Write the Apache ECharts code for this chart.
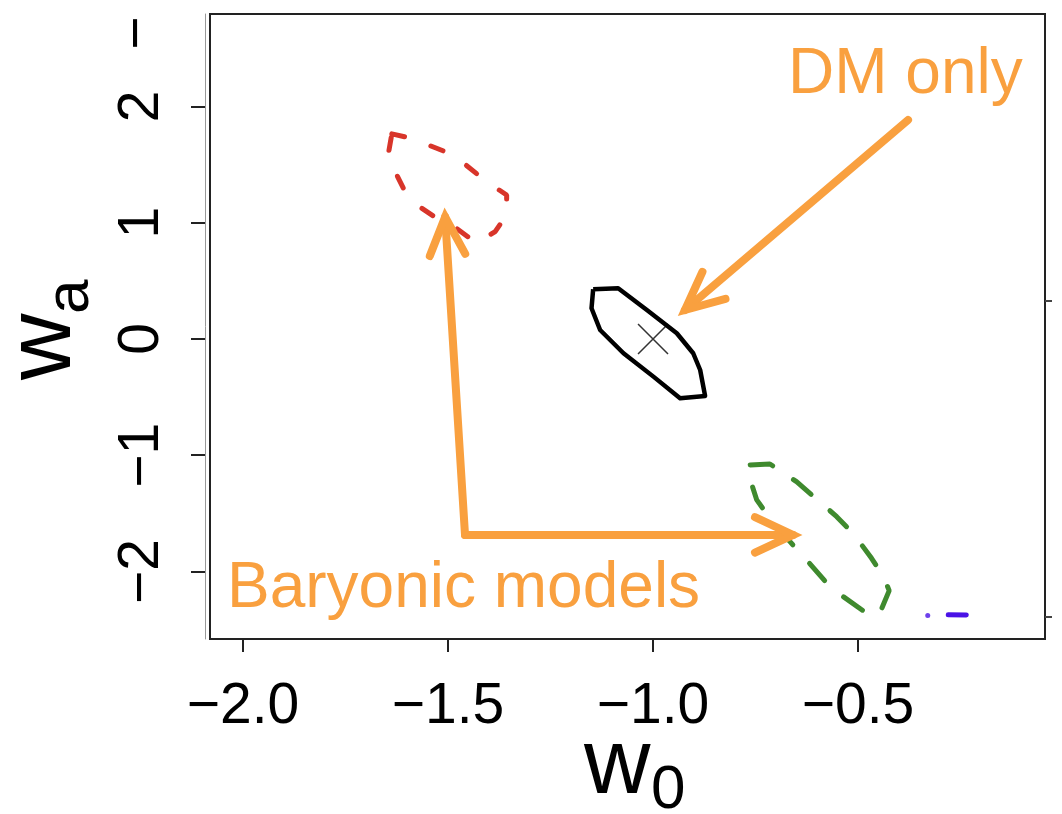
<!DOCTYPE html>
<html>
<head>
<meta charset="utf-8">
<script src="https://cdn.jsdelivr.net/npm/echarts@6/dist/echarts.min.js"></script>
<style>html,body{margin:0;padding:0;background:#fff;}#c{width:1062px;height:814px;}</style>
</head>
<body>
<div id="c"></div>
<script>
// ---- data ----
const xTicks = [-2.0, -1.5, -1.0, -0.5];
const xTickLabels = ['\u22122.0', '\u22121.5', '\u22121.0', '\u22120.5'];
const yTicks = [-2, -1, 0, 1, 2];
const yTickLabels = ['\u22122', '\u22121', '0', '1', '2'];
const rightTicks = [0.33, -2.39];

// DM only contour (solid black)
const dmContour = [
  [-1.146, 0.427], [-1.085, 0.436], [-1.015, 0.249], [-0.942, 0.049],
  [-0.902, -0.123], [-0.885, -0.267], [-0.873, -0.490], [-0.934, -0.510],
  [-0.999, -0.324], [-1.072, -0.123], [-1.129, 0.077], [-1.150, 0.264],
  [-1.146, 0.427]
];
const dmCenter = [[-1.0, 0.0]];

// Baryonic model contour (red dashed)
const redContour = [
  [-1.637, 1.763], [-1.589, 1.726], [-1.487, 1.582], [-1.406, 1.353],
  [-1.357, 1.238], [-1.357, 1.066], [-1.385, 0.923], [-1.430, 0.823],
  [-1.483, 0.960], [-1.528, 1.038], [-1.570, 1.138], [-1.605, 1.267],
  [-1.629, 1.439], [-1.646, 1.582], [-1.637, 1.763]
];

// Baryonic model contour (green dashed)
const greenContour = [
  [-0.763, -1.083], [-0.715, -1.075], [-0.650, -1.227], [-0.552, -1.528],
  [-0.512, -1.671], [-0.467, -1.886], [-0.438, -2.044], [-0.424, -2.164],
  [-0.442, -2.316], [-0.467, -2.388], [-0.536, -2.216], [-0.576, -2.101],
  [-0.629, -1.886], [-0.666, -1.743], [-0.715, -1.542], [-0.747, -1.384],
  [-0.768, -1.155], [-0.763, -1.083]
];

// Baryonic model contour (tiny, blue)
const blueDash = [[-0.280, -2.372], [-0.236, -2.374]];
const blueDot = [[-0.330, -2.379]];

// Annotation arrows: [xStart, yStart, xTip, yTip]
const arrowSegments = [
  [-0.378, 1.883, -0.922, 0.249],
  [-1.4585, -1.685, -1.507, 1.049],
  [-1.4585, -1.685, -0.6585, -1.685]
];

// ---- chart ----
const FONT = '"Liberation Sans", Arial, Helvetica, sans-serif';
const ORANGE = '#f9a03f';
const chart = echarts.init(document.getElementById('c'), null, {renderer: 'canvas'});

function arrowItem(params, api) {
  const p1 = api.coord([api.value(0), api.value(1)]);
  const p2 = api.coord([api.value(2), api.value(3)]);
  const ang = Math.atan2(p1[1] - p2[1], p1[0] - p2[0]);
  const L = 42, a = 25 * Math.PI / 180;
  const a1 = [p2[0] + L * Math.cos(ang + a), p2[1] + L * Math.sin(ang + a)];
  const a2 = [p2[0] + L * Math.cos(ang - a), p2[1] + L * Math.sin(ang - a)];
  const st = {stroke: ORANGE, lineWidth: 8, lineCap: 'round', lineJoin: 'miter', fill: null};
  return {
    type: 'group',
    children: [
      {type: 'line', shape: {x1: p1[0], y1: p1[1], x2: p2[0], y2: p2[1]}, style: st},
      {type: 'polyline', shape: {points: [a1, p2, a2]}, style: st}
    ]
  };
}

const option = {
  backgroundColor: '#fff',
  animation: false,
  grid: {left: 210, right: 17, top: 14, bottom: 175, show: true, borderColor: '#222', borderWidth: 2, backgroundColor: 'transparent'},
  xAxis: {
    type: 'value', min: -2.0805, max: -0.044,
    axisLine: {show: true, onZero: false, lineStyle: {color: '#222', width: 2}},
    axisTick: {show: true, length: 13, customValues: xTicks, lineStyle: {color: '#222', width: 2}},
    axisLabel: {
      customValues: xTicks, margin: 40, fontSize: 57, fontFamily: FONT, color: '#000',
      formatter: v => xTickLabels[xTicks.findIndex(t => Math.abs(t - v) < 1e-9)]
    },
    splitLine: {show: false}
  },
  yAxis: [{
    type: 'value', min: -2.58, max: 2.794, offset: 5,
    axisLine: {show: true, onZero: false, lineStyle: {color: '#999', width: 1}},
    axisTick: {show: true, length: 14, customValues: yTicks, lineStyle: {color: '#222', width: 2}},
    axisLabel: {
      customValues: yTicks, rotate: 90, margin: 34, fontSize: 57, fontFamily: FONT, color: '#000',
      formatter: v => yTickLabels[yTicks.findIndex(t => Math.abs(t - v) < 1e-9)]
    },
    splitLine: {show: false}
  }, {
    type: 'value', min: -2.58, max: 2.794, position: 'right',
    axisLine: {show: false},
    axisTick: {show: true, length: 7, customValues: rightTicks, lineStyle: {color: '#444', width: 2}},
    axisLabel: {show: false},
    splitLine: {show: false}
  }],
  series: [
    {type: 'line', data: dmContour, showSymbol: false, symbol: 'none', lineStyle: {color: '#000', width: 4.5, join: 'round'}, z: 3},
    {type: 'scatter', data: dmCenter, symbol: 'path://M0,0L10,10M10,0L0,10', symbolSize: 30,
     itemStyle: {color: 'none', borderColor: '#000', borderWidth: 1.5}, z: 3},
    {type: 'line', data: redContour, showSymbol: false, symbol: 'none', lineStyle: {color: '#d8352a', width: 5, type: [13, 28], cap: 'round'}, z: 3},
    {type: 'line', data: greenContour, showSymbol: false, symbol: 'none', lineStyle: {color: '#3f8a2e', width: 5, type: [23, 25], cap: 'round'}, z: 3},
    {type: 'line', data: blueDash, showSymbol: false, symbol: 'none', lineStyle: {color: '#4a12e6', width: 5, cap: 'round'}, z: 3},
    {type: 'scatter', data: blueDot, symbolSize: 5, itemStyle: {color: '#4a12e6'}, z: 3},
    {type: 'custom', data: arrowSegments, renderItem: arrowItem, encode: {x: [0, 2], y: [1, 3]}, z: 5, silent: true}
  ],
  graphic: [
    {type: 'text', style: {text: 'DM only', x: 788, y: 97 - 22, font: '64px ' + FONT, fill: ORANGE, align: 'left', verticalAlign: 'middle'}, z: 10},
    {type: 'text', style: {text: 'Baryonic models', x: 227, y: 611 - 22, font: '64px ' + FONT, fill: ORANGE, align: 'left', verticalAlign: 'middle'}, z: 10},
    {type: 'text', style: {text: 'w', x: 584, y: 800 - 32, font: '92px ' + FONT, fill: '#000', align: 'left', verticalAlign: 'middle'}},
    {type: 'text', style: {text: '0', x: 651, y: 813 - 22, font: '62px ' + FONT, fill: '#000', align: 'left', verticalAlign: 'middle'}},
    {type: 'text', rotation: Math.PI / 2, x: 77 - 32, y: 380, style: {text: 'w', x: 0, y: 0, font: '92px ' + FONT, fill: '#000', align: 'left', verticalAlign: 'middle'}},
    {type: 'text', rotation: Math.PI / 2, x: 93 - 22, y: 314, style: {text: 'a', x: 0, y: 0, font: '62px ' + FONT, fill: '#000', align: 'left', verticalAlign: 'middle'}},
    {type: 'text', rotation: Math.PI / 2, x: 160 - 22, y: 33, style: {text: '\u2212', x: 0, y: 0, font: '57px ' + FONT, fill: '#000', align: 'center', verticalAlign: 'middle'}}
  ]
};
chart.setOption(option);
</script>
</body>
</html>
